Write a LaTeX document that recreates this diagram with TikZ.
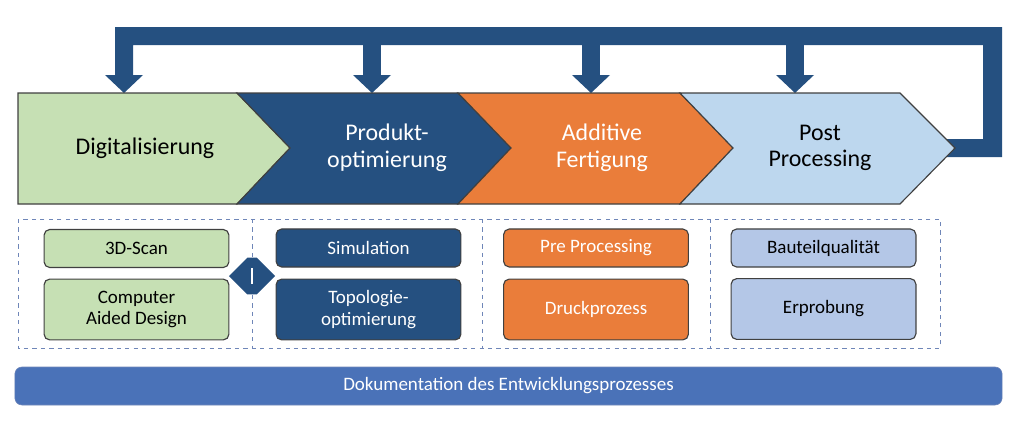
\documentclass[tikz,border=0pt]{standalone}
\usepackage{fontspec}
\setmainfont{Carlito}
\usetikzlibrary{positioning, arrows.meta, shapes.arrows}
\definecolor{cgreen}{HTML}{C6E0B4}
\definecolor{cdark}{HTML}{255080}
\definecolor{corange}{HTML}{EA7D3A}
\definecolor{clight}{HTML}{BDD7EE}
\definecolor{clav}{HTML}{B4C7E7}
\definecolor{cbar}{HTML}{4A72B8}
\definecolor{cdash}{HTML}{6F86B8}
\tikzset{
    chev/.style={draw=black!75, line width=0.8pt},
    phase/.style={font=\fontsize{17}{19}\selectfont, align=center},
    item/.style={rectangle, draw=black!75, rounded corners=4pt, line width=0.8pt, minimum width=4.62cm, align=center, font=\fontsize{13.5}{15.5}\selectfont},
    frame/.style={draw=cdash, dashed, line width=0.7pt},
    feed/.style={fill=cdark},
}
\begin{document}
\begin{tikzpicture}[x=0.025cm, y=-0.025cm]
    \useasboundingbox (0,0) rectangle (1024,434);
    % feedback loop
    \fill[feed] (115,27) -- (1002,27) -- (1002,157) -- (940,157) -- (940,139) -- (983,139) -- (983,45) -- (133,45) -- (133,75) -- (115,75) -- cycle;
    \foreach \x in {124,372,591,795} {
        \fill[feed] (\x-9,44) rectangle (\x+9,76);
        \fill[feed] (\x-19,75) -- (\x+19,75) -- (\x,93) -- cycle;
    }
    % phases
    \draw[chev, fill=cgreen] (18,93) -- (237,93) -- (290,148) -- (237,204) -- (18,204) -- cycle;
    \draw[chev, fill=cdark] (237,93) -- (458,93) -- (511,148) -- (458,204) -- (237,204) -- (290,148) -- cycle;
    \draw[chev, fill=corange] (458,93) -- (680,93) -- (733,148) -- (680,204) -- (458,204) -- (511,148) -- cycle;
    \draw[chev, fill=clight] (680,93) -- (900,93) -- (955,148) -- (900,204) -- (680,204) -- (733,148) -- cycle;
    \node[phase] (digi) at (145,148) {Digitalisierung};
    \node[phase, text=white] (prod) at (387,148) {Produkt-\\optimierung};
    \node[phase, text=white] (add) at (602,148) {Additive\\Fertigung};
    \node[phase] (post) at (820,148) {Post\\Processing};
    % sub-steps
    \draw[frame] (18,219) rectangle (940,348);
    \foreach \x in {252,482,710} \draw[frame] (\x,219) -- (\x,348);
    \node[item, fill=cgreen, minimum height=0.95cm] (scan) at (136.5,248.5) {3D-Scan};
    \node[item, fill=cgreen, minimum height=1.52cm] (cad) at (136.5,309.5) {Computer\\Aided Design};
    \node[item, fill=cdark, text=white, minimum height=0.95cm] (sim) at (368.5,248) {Simulation};
    \node[item, fill=cdark, text=white, minimum height=1.52cm] (topo) at (368.5,309.5) {Topologie-\\optimierung};
    \node[item, fill=corange, text=white, minimum height=0.95cm] (pre) at (596,248) {Pre Processing};
    \node[item, fill=corange, text=white, minimum height=1.52cm] (druck) at (596,309.5) {Druckprozess};
    \node[item, fill=clav, minimum height=0.95cm] (bau) at (823.5,248) {Bauteilqualität};
    \node[item, fill=clav, minimum height=1.52cm] (erp) at (823.5,309) {Erprobung};
    \node[double arrow, fill=cdark, minimum width=0.92cm, minimum height=1.15cm, double arrow head extend=0pt, inner sep=0pt] (link) at (252,276) {};
    \draw[white, line width=1.5pt] (link.center) ++(0,-8) -- ++(0,16);
    % documentation
    \node[rectangle, fill=cbar, draw=cdash, rounded corners=5pt, minimum width=24.675cm, minimum height=0.95cm, text=white, font=\fontsize{13.5}{15.5}\selectfont] (doku) at (508.5,386) {Dokumentation des Entwicklungsprozesses};
\end{tikzpicture}
\end{document}
